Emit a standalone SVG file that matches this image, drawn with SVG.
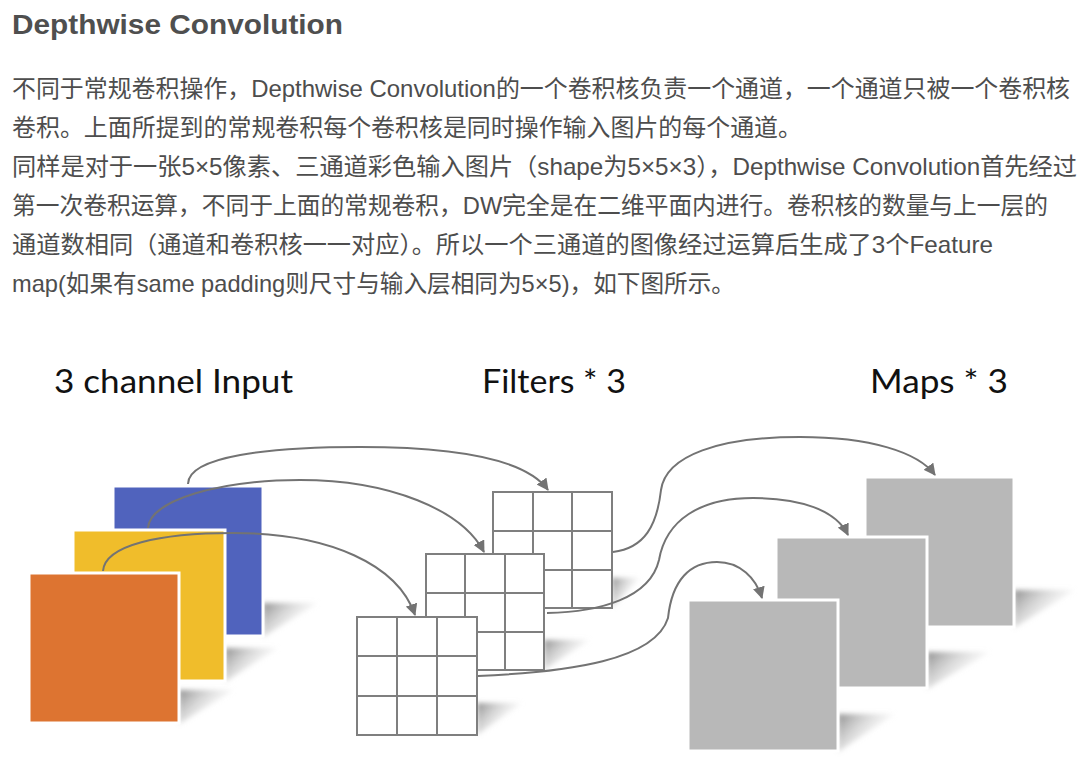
<svg xmlns="http://www.w3.org/2000/svg" width="1087" height="759" viewBox="0 0 1087 759">
<defs>
<style>
.title{font-family:"Liberation Sans","Noto Sans CJK SC",sans-serif;font-weight:bold;font-size:28px;fill:#4f4f4f}
.body{font-family:"Liberation Sans","Noto Sans CJK SC",sans-serif;font-size:24px;fill:#4d4d4d}
.lbl{font-family:Lato,"Open Sans",sans-serif;font-size:33px;fill:#111}
.inp{stroke:#fff;stroke-width:3}
.map{fill:#b8b8b8;stroke:#fff;stroke-width:3}
.grid rect{fill:#fff;stroke:#7f7f7f;stroke-width:2}
.grid path{fill:none;stroke:#7f7f7f;stroke-width:2}
.conn path{fill:none;stroke:#737373;stroke-width:2}
.shadow{fill:url(#shg);filter:url(#blur)}
</style>
<linearGradient id="shg" x1="0" y1="0" x2="1" y2="0.6">
<stop offset="0" stop-color="#7a7a7a" stop-opacity="0.85"/>
<stop offset="1" stop-color="#ffffff" stop-opacity="0"/>
</linearGradient>
<filter id="blur" x="-20%" y="-20%" width="140%" height="140%"><feGaussianBlur stdDeviation="2.5"/></filter>
<marker id="ah" markerWidth="12" markerHeight="12" refX="11" refY="6" orient="auto" markerUnits="userSpaceOnUse">
<path d="M0,0 L12,6 L0,12 Z" fill="#737373"/>
</marker>
</defs>
<rect width="1087" height="759" fill="#fff"/>

<g id="text">
<text class="title" x="12" y="34" textLength="331" lengthAdjust="spacingAndGlyphs">Depthwise Convolution</text>
<text class="body" x="12" y="97" textLength="1058" lengthAdjust="spacingAndGlyphs">不同于常规卷积操作，Depthwise Convolution的一个卷积核负责一个通道，一个通道只被一个卷积核</text>
<text class="body" x="12" y="136" textLength="790" lengthAdjust="spacingAndGlyphs">卷积。上面所提到的常规卷积每个卷积核是同时操作输入图片的每个通道。</text>
<text class="body" x="12" y="175" textLength="1065" lengthAdjust="spacingAndGlyphs">同样是对于一张5×5像素、三通道彩色输入图片（shape为5×5×3），Depthwise Convolution首先经过</text>
<text class="body" x="12" y="214" textLength="1036" lengthAdjust="spacingAndGlyphs">第一次卷积运算，不同于上面的常规卷积，DW完全是在二维平面内进行。卷积核的数量与上一层的</text>
<text class="body" x="12" y="253" textLength="981" lengthAdjust="spacingAndGlyphs">通道数相同（通道和卷积核一一对应）。所以一个三通道的图像经过运算后生成了3个Feature</text>
<text class="body" x="12" y="292" textLength="723" lengthAdjust="spacingAndGlyphs">map(如果有same padding则尺寸与输入层相同为5×5)，如下图所示。</text>
</g>

<g id="labels">
<text class="lbl" x="54" y="393" textLength="239" lengthAdjust="spacingAndGlyphs">3 channel Input</text>
<text class="lbl" x="482" y="393" textLength="144" lengthAdjust="spacingAndGlyphs">Filters * 3</text>
<text class="lbl" x="870" y="393" textLength="138" lengthAdjust="spacingAndGlyphs">Maps * 3</text>
</g>

<g id="shadows">
<polygon class="shadow" points="263,603 318,603 263,637"/>
<polygon class="shadow" points="225,648 278,648 225,682"/>
<polygon class="shadow" points="179,690 234,690 179,724"/>
<polygon class="shadow" points="612,578 640,578 612,608"/>
<polygon class="shadow" points="544,640 590,640 544,670"/>
<polygon class="shadow" points="477,703 522,703 477,735"/>
<polygon class="shadow" points="1014,590 1075,590 1014,628"/>
<polygon class="shadow" points="927,652 990,652 927,689"/>
<polygon class="shadow" points="838,714 895,714 838,752"/>
</g>

<g id="input-blue"><rect class="inp" x="113" y="486" width="150" height="150" fill="#5063bd"/></g>
<g id="input-yellow"><rect class="inp" x="73" y="530" width="152" height="151" fill="#f0bd2b"/></g>
<g id="input-orange"><rect class="inp" x="29" y="573" width="150" height="150" fill="#dd7431"/></g>

<g id="filter-back" class="grid">
<rect x="493" y="492" width="119" height="116"/>
<path d="M533,492V608M572,492V608M493,531H612M493,570H612"/>
</g>
<g id="filter-middle" class="grid">
<rect x="426" y="554" width="118" height="116"/>
<path d="M465,554V670M505,554V670M426,593H544M426,632H544"/>
</g>
<g id="filter-front" class="grid">
<rect x="357" y="617" width="120" height="118"/>
<path d="M397,617V735M437,617V735M357,656H477M357,696H477"/>
</g>

<g id="map-back"><rect class="map" x="865" y="477" width="149" height="150"/></g>
<g id="map-middle"><rect class="map" x="776" y="537" width="151" height="151"/></g>
<g id="map-front"><rect class="map" x="688" y="600" width="150" height="151"/></g>

<g id="connectors" class="conn">
<path marker-end="url(#ah)" d="M188,484 C188,456 270,447 360,447 C450,447 525,458 548,490"/>
<path marker-end="url(#ah)" d="M148,528 C150,500 220,480 300,480 C390,480 462,510 484,552"/>
<path marker-end="url(#ah)" d="M103,571 C105,545 160,533 233,533 C330,533 398,565 415,615"/>
<path marker-end="url(#ah)" d="M613,552 C645,548 657,525 661,490 C666,455 720,437 800,437 C870,437 918,452 935,475"/>
<path marker-end="url(#ah)" d="M547,613 C600,612 650,598 659,560 C666,520 700,498 753,498 C800,498 836,510 848,535"/>
<path marker-end="url(#ah)" d="M478,676 C570,672 655,660 668,618 C672,580 690,562 717,562 C740,562 756,578 762,598"/>
</g>
</svg>
